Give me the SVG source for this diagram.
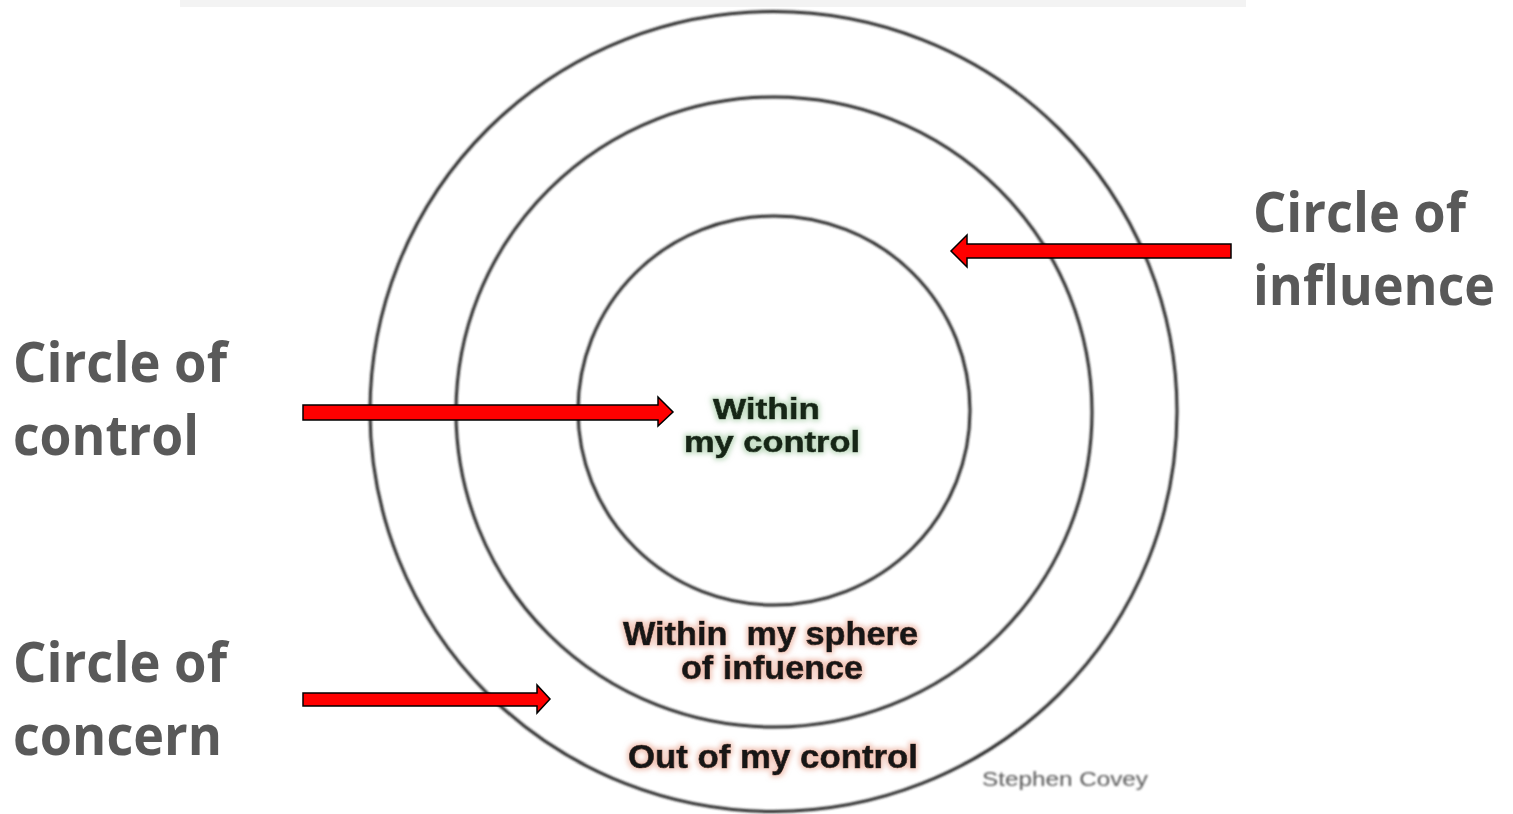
<svg xmlns="http://www.w3.org/2000/svg" width="1513" height="814" viewBox="0 0 1513 814">
  <defs>
    <style>
      .ring { fill: none; stroke: #262626; stroke-width: 3; }
      .big { font-family: "Open Sans", "Liberation Sans", sans-serif; font-weight: 700; font-size: 55px; fill: #595959; }
      .inner { font-family: "Liberation Sans", Arial, sans-serif; font-weight: 700; font-size: 33px; fill: #151515; stroke: #151515; stroke-width: 0.7; }
      .ctl { font-size: 30px; fill: #152515; stroke: #152515; }
      .credit { font-family: "Liberation Sans", Arial, sans-serif; font-size: 20px; fill: #555555; }
      .arrow { fill: #ff0000; stroke: #000000; stroke-width: 1.5; stroke-linejoin: miter; }
    </style>
    <filter id="soft" x="-5%" y="-5%" width="110%" height="110%">
      <feGaussianBlur stdDeviation="0.8"/>
    </filter>
    <filter id="glowGreen" x="-10%" y="-30%" width="120%" height="160%">
      <feMorphology in="SourceAlpha" operator="dilate" radius="1.5" result="d"/>
      <feGaussianBlur in="d" stdDeviation="2.5" result="b"/>
      <feFlood flood-color="#9fc89f" flood-opacity="0.6"/>
      <feComposite in2="b" operator="in" result="g"/>
      <feMerge><feMergeNode in="g"/><feMergeNode in="SourceGraphic"/></feMerge>
    </filter>
    <filter id="glowRed" x="-10%" y="-30%" width="120%" height="160%">
      <feMorphology in="SourceAlpha" operator="dilate" radius="1.5" result="d"/>
      <feGaussianBlur in="d" stdDeviation="2.5" result="b"/>
      <feFlood flood-color="#e8a08a" flood-opacity="0.6"/>
      <feComposite in2="b" operator="in" result="g"/>
      <feMerge><feMergeNode in="g"/><feMergeNode in="SourceGraphic"/></feMerge>
    </filter>
  </defs>

  <rect x="0" y="0" width="1513" height="814" fill="#ffffff"/>
  <rect x="180" y="0" width="1066" height="7" fill="#f3f3f3"/>

  <g id="concern">
    <ellipse class="ring" cx="773.5" cy="411.5" rx="403.5" ry="400" filter="url(#soft)"/>
    <text class="inner" x="628" y="768" textLength="290" lengthAdjust="spacingAndGlyphs" filter="url(#glowRed)">Out of my control</text>
  </g>

  <g id="influence">
    <ellipse class="ring" cx="774" cy="412" rx="318" ry="315" filter="url(#soft)"/>
    <text class="inner" x="623" y="645" textLength="295" lengthAdjust="spacingAndGlyphs" xml:space="preserve" filter="url(#glowRed)">Within  my sphere</text>
    <text class="inner" x="681" y="679" textLength="182" lengthAdjust="spacingAndGlyphs" filter="url(#glowRed)">of infuence</text>
  </g>

  <g id="control">
    <ellipse class="ring" cx="774" cy="410.5" rx="196" ry="194.5" filter="url(#soft)"/>
    <text class="inner ctl" x="713" y="419" textLength="107" lengthAdjust="spacingAndGlyphs" filter="url(#glowGreen)">Within</text>
    <text class="inner ctl" x="684" y="452" textLength="176" lengthAdjust="spacingAndGlyphs" filter="url(#glowGreen)">my control</text>
  </g>

  <g id="credit">
    <text class="credit" x="982" y="786" textLength="166" lengthAdjust="spacingAndGlyphs" filter="url(#soft)">Stephen Covey</text>
  </g>

  <g id="label-influence">
    <text class="big" x="1253" y="232" textLength="213" lengthAdjust="spacingAndGlyphs">Circle of</text>
    <text class="big" x="1253" y="305" textLength="242" lengthAdjust="spacingAndGlyphs">influence</text>
  </g>
  <g id="label-control">
    <text class="big" x="13" y="382" textLength="214" lengthAdjust="spacingAndGlyphs">Circle of</text>
    <text class="big" x="13" y="455" textLength="186" lengthAdjust="spacingAndGlyphs">control</text>
  </g>
  <g id="label-concern">
    <text class="big" x="13" y="682" textLength="214" lengthAdjust="spacingAndGlyphs">Circle of</text>
    <text class="big" x="13" y="755" textLength="209" lengthAdjust="spacingAndGlyphs">concern</text>
  </g>

  <g id="connectors">
    <polygon class="arrow" points="1231,244 967,244 967,235 951,251 967,267 967,258 1231,258"/>
    <polygon class="arrow" points="303,405 658,405 658,397 673,412 658,426 658,420 303,420"/>
    <polygon class="arrow" points="303,693 537,693 537,685 550,699 537,713 537,706 303,706"/>
  </g>
</svg>
